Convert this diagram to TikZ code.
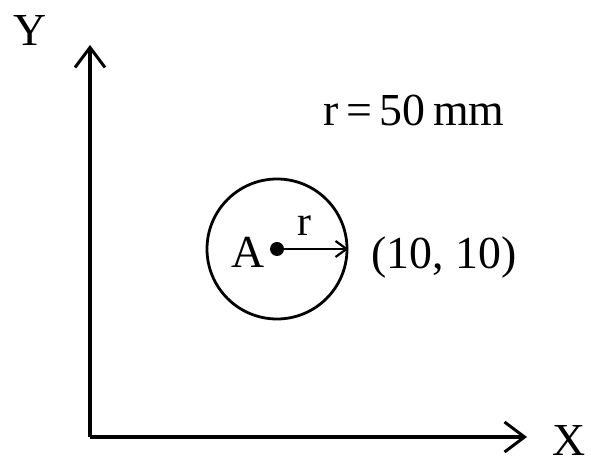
\documentclass[tikz,border=0pt]{standalone}
\usepackage{fontspec}
\setmainfont{Liberation Serif}
\usetikzlibrary{arrows.meta,positioning}

\begin{document}
\begin{tikzpicture}[x=1bp,y=1bp,
  lbl/.style={inner sep=0pt,font=\fontsize{46}{50}\selectfont},
  axis/.style={line width=3.4pt,-{Straight Barb[length=20bp,width=30bp,line width=3pt]}}]
\useasboundingbox (0,0) rectangle (591,464);

\coordinate (O) at (90,27);
\coordinate (Ytip) at (90,419);
\coordinate (Xtip) at (527,27);
\draw[axis] (O) -- (Ytip);
\draw[axis] (O) -- (Xtip);
\node[lbl] (ylab) at (30,433) {Y};
\node[lbl] (xlab) at (569,24) {X};

\node[circle,draw,line width=2.8pt,minimum size=140bp,inner sep=0pt] (circ) at (277,215) {};
\fill (circ.center) circle (7bp);
\draw[line width=2.6pt,-{Straight Barb[length=11bp,width=16bp,line width=2.2pt]}] (circ.center) -- (circ.east);
\node[lbl] (alab) at (248,212) {A};
\node[lbl,font=\fontsize{42}{44}\selectfont] (rlab) at (304,238) {r};

\node[lbl] (pt) at (444,207) {(10, 10)};
\node[lbl] (rad) at (414,354) {r\,=\,50\,mm};
\end{tikzpicture}
\end{document}
